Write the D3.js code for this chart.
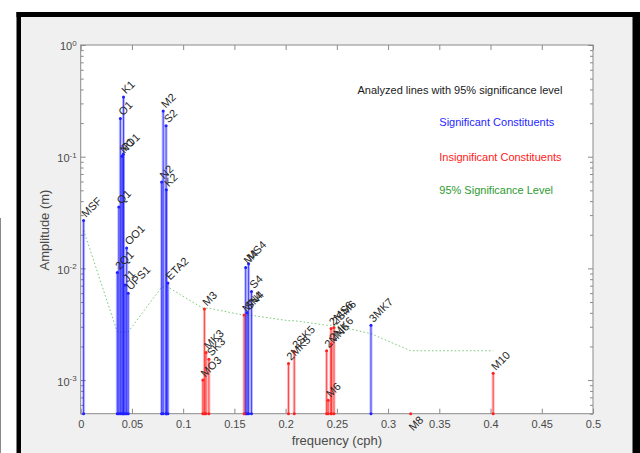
<!DOCTYPE html>
<html>
<head>
<meta charset="utf-8">
<script src="https://cdn.jsdelivr.net/npm/d3@7"></script>
<style>
  body { margin: 0; background: #fff; }
  text { font-family: "Liberation Sans", Arial, sans-serif; }
</style>
</head>
<body>
<div class="tideChart"></div>
<script>
// constituents, sorted by frequency
const names = ["MSF","2Q1","Q1","O1","NO1","P1","K1","J1","OO1","UPS1",
  "N2","M2","S2","K2","ETA2",
  "MO3","M3","MK3","SK3",
  "MN4","M4","SN4","MS4","S4",
  "2MK5","2SK5",
  "2MN6","M6","2MS6","2MK6","2SM6",
  "3MK7","M8","M10"];
const freqs = [0.00282,0.03571,0.03722,0.03873,0.04027,0.04155,0.04178,0.04329,0.04483,0.04634,
  0.07900,0.08051,0.08333,0.08356,0.08507,
  0.11924,0.12077,0.12229,0.12511,
  0.15951,0.16102,0.16233,0.16384,0.16667,
  0.20280,0.20845,
  0.24002,0.24153,0.24436,0.24458,0.24718,
  0.28331,0.32205,0.40256];
const amps = [0.0269,0.0092,0.0354,0.220,0.101,0.105,0.343,0.0071,0.0152,0.0060,
  0.0593,0.256,0.189,0.0506,0.0074,
  0.00100,0.00432,0.00177,0.00154,
  0.00382,0.0102,0.0040,0.0110,0.0062,
  0.00141,0.00180,
  0.00183,0.00066,0.00290,0.00210,0.00295,
  0.0031,0.00033,0.00115];
// 1 = significant, 0 = not
const signif = [1,1,1,1,1,1,1,1,1,1,
  1,1,1,1,1,
  0,0,0,0,
  0,1,1,1,1,
  0,0,
  0,0,0,0,0,
  1,0,0];
// 95% significance level at each constituent
const sigLevel = [0.022,0.0027,0.0027,0.0027,0.0027,0.0027,0.0027,0.0027,0.0027,0.0027,
  0.0068,0.0068,0.0068,0.0068,0.0068,
  0.0044,0.0044,0.0044,0.0044,
  0.0038,0.0038,0.0038,0.0038,0.0038,
  0.0034,0.0034,
  0.0031,0.0031,0.0031,0.0031,0.0031,
  0.0026,0.00183,0.00183];

const xTicks = [0,0.05,0.1,0.15,0.2,0.25,0.3,0.35,0.4,0.45,0.5];
const yDomain = [5e-4, 1];
const legendTitle = "Analyzed lines with 95% significance level";
const legendItems = ["Significant Constituents","Insignificant Constituents","95% Significance Level"];

const W = 640, H = 453;
const margin = {top: 45, right: 47, bottom: 39.3, left: 80.7};
const width = W - margin.left - margin.right,
      height = H - margin.top - margin.bottom;

const blue = "#1f1fff", red = "#ff2020", green = "#7ccb7c";

let svg = d3.select(".tideChart")
  .append("svg")
  .attr("width", W)
  .attr("height", H);

// window frame
svg.append("rect").attr("x", 0).attr("y", 0).attr("width", W).attr("height", H).attr("fill", "#fff");
svg.append("rect").attr("x", 19).attr("y", 14.5).attr("width", 616).attr("height", H).attr("fill", "#f0f0f0");
svg.append("rect").attr("x", 16.5).attr("y", 12).attr("width", W - 16.5).attr("height", 5).attr("fill", "#000");
svg.append("rect").attr("x", 16.5).attr("y", 12).attr("width", 4.5).attr("height", H).attr("fill", "#000");
svg.append("rect").attr("x", 632.5).attr("y", 12).attr("width", 8).attr("height", H).attr("fill", "#000");
svg.append("line").attr("x1", 0.5).attr("x2", 0.5).attr("y1", 218).attr("y2", H).attr("stroke", "#8a8a8a");

let g = svg.append("g")
  .attr("transform", "translate(" + margin.left + "," + margin.top + ")");

g.append("rect").attr("width", width).attr("height", height).attr("fill", "#fff");

let x = d3.scaleLinear().domain([0, 0.5]).range([0, width]);
let y = d3.scaleLog().domain(yDomain).range([height, 0]);

g.append("clipPath").attr("id", "plotClip")
  .append("rect").attr("width", width).attr("height", height);

// x axis bottom + top
let xb = g.append("g")
  .attr("transform", "translate(0," + height + ")")
  .attr("class", "axis x")
  .call(d3.axisBottom(x).tickValues(xTicks).tickFormat(d3.format("")).tickSizeInner(-5).tickSizeOuter(0).tickPadding(6.5));
g.append("g")
  .call(d3.axisTop(x).tickValues(xTicks).tickFormat("").tickSizeInner(-5).tickSizeOuter(0));

// y axis left + right, minor ticks from the log scale
const allY = y.ticks();
const majorY = allY.filter(d => Math.abs(Math.log10(d) - Math.round(Math.log10(d))) < 1e-9);
const minorY = allY.filter(d => majorY.indexOf(d) < 0);

let yl = g.append("g")
  .call(d3.axisLeft(y).tickValues(majorY).tickSizeInner(-5).tickSizeOuter(0).tickPadding(4));
g.append("g")
  .attr("transform", "translate(" + width + ",0)")
  .call(d3.axisRight(y).tickValues(majorY).tickFormat("").tickSizeInner(-5).tickSizeOuter(0));
g.append("g")
  .call(d3.axisLeft(y).tickValues(minorY).tickFormat("").tickSizeInner(-3).tickSizeOuter(0));
g.append("g")
  .attr("transform", "translate(" + width + ",0)")
  .call(d3.axisRight(y).tickValues(minorY).tickFormat("").tickSizeInner(-3).tickSizeOuter(0));

g.selectAll(".domain").remove();
g.selectAll(".tick line").attr("stroke", "#8a8a8a");
g.selectAll(".tick text").attr("fill", "#4a4a4a").style("font-size", "11px")
  .style("font-family", "'Liberation Sans', Arial, sans-serif");

// 10^n labels
yl.selectAll(".tick text").each(function(d) {
  let t = d3.select(this);
  t.text("").attr("dy", "0.45em");
  t.append("tspan").text("10");
  t.append("tspan").attr("dy", "-0.55em").style("font-size", "8px").text(Math.round(Math.log10(d)));
});

// box
g.append("rect").attr("width", width).attr("height", height)
  .attr("fill", "none").attr("stroke", "#8a8a8a").attr("stroke-width", 1);

const cons = names.map((n, i) => ({name: n, f: freqs[i], a: amps[i], s: signif[i], lev: sigLevel[i]}));
const ordered = cons.filter(d => d.s === 1).concat(cons.filter(d => d.s === 0));
const col = d => d.s === 1 ? blue : red;

let plot = g.append("g").attr("clip-path", "url(#plotClip)");

// significance level line
plot.append("path")
  .datum(cons)
  .attr("fill", "none")
  .attr("stroke", green)
  .attr("stroke-width", 1)
  .attr("stroke-dasharray", "1.6,2.2")
  .attr("d", d3.line().x(d => x(d.f)).y(d => y(d.lev)));

// stems: soft halo + core
plot.selectAll(".halo").data(ordered).enter().append("line")
  .attr("x1", d => x(d.f)).attr("x2", d => x(d.f))
  .attr("y1", y(yDomain[0])).attr("y2", d => y(d.a))
  .attr("stroke", col).attr("stroke-width", 3).attr("stroke-opacity", 0.3);
plot.selectAll(".stem").data(ordered).enter().append("line")
  .attr("x1", d => x(d.f)).attr("x2", d => x(d.f))
  .attr("y1", y(yDomain[0])).attr("y2", d => y(d.a))
  .attr("stroke", col).attr("stroke-width", 1).attr("stroke-opacity", 0.75);
plot.selectAll(".topDot").data(ordered).enter().append("circle")
  .attr("cx", d => x(d.f)).attr("cy", d => y(d.a)).attr("r", 1.5).attr("fill", col);
g.selectAll(".baseDot").data(ordered).enter().append("circle")
  .attr("cx", d => x(d.f)).attr("cy", y(yDomain[0])).attr("r", 1.5).attr("fill", col);

// constituent names
g.selectAll(".lab").data(cons).enter().append("text")
  .attr("transform", d => "translate(" + (x(d.f) + 2.5) + "," + (y(d.a) - 2.3) + ") rotate(-45)")
  .attr("fill", "#262626")
  .style("font-size", "11px")
  .text(d => d.name);

// axis titles
svg.append("text")
  .attr("x", margin.left + width / 2).attr("y", 444.5)
  .attr("text-anchor", "middle").attr("fill", "#4a4a4a").style("font-size", "13px")
  .text("frequency (cph)");
svg.append("text")
  .attr("transform", "translate(48.5,230) rotate(-90)")
  .attr("text-anchor", "middle").attr("fill", "#4a4a4a").style("font-size", "13px")
  .text("Amplitude (m)");

// legend texts
svg.append("text").attr("x", 357.5).attr("y", 94).attr("fill", "#1a1a1a").style("font-size", "11px").text(legendTitle);
const legCols = [blue, red, "#2e9a2e"];
const legY = [126.3, 161.3, 194];
legendItems.forEach((t, i) => {
  svg.append("text").attr("x", 439.3).attr("y", legY[i]).attr("fill", legCols[i]).style("font-size", "11px").text(t);
});
</script>
</body>
</html>
